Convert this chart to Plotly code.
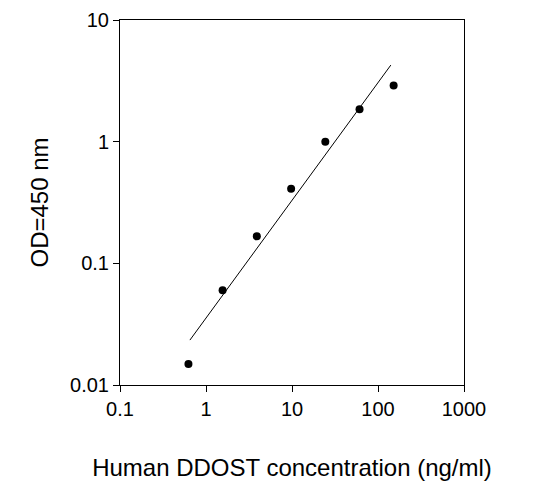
import plotly.graph_objects as go

# Standard curve points
conc = [0.625, 1.56, 3.9, 9.77, 24.4, 61, 152]
od = [0.0149, 0.060, 0.167, 0.41, 1.0, 1.85, 2.9]

# Fitted line endpoints
fit_x = [0.65, 141]
fit_y = [0.0234, 4.26]

fig = go.Figure()
fig.add_trace(go.Scatter(x=fit_x, y=fit_y, mode="lines",
                         line=dict(color="black", width=1)))
fig.add_trace(go.Scatter(x=conc, y=od, mode="markers",
                         marker=dict(color="black", size=8)))

axis_common = dict(
    type="log", showgrid=False, zeroline=False, automargin=False,
    showline=True, linecolor="black", linewidth=1, mirror=True,
    ticks="outside", ticklen=6, tickcolor="black",
    tickfont=dict(size=20, color="black"),
)
fig.update_xaxes(range=[-1, 3], tickvals=[0.1, 1, 10, 100, 1000],
                 ticktext=["0.1", "1", "10", "100", "1000"],
                 title=dict(text="Human DDOST concentration (ng/ml)",
                            font=dict(size=24, color="black"), standoff=40),
                 **axis_common)
fig.update_yaxes(range=[-2, 1], tickvals=[0.01, 0.1, 1, 10],
                 ticktext=["0.01", "0.1", "1", "10"],
                 title=dict(text="OD=450 nm",
                            font=dict(size=24, color="black"), standoff=14),
                 **axis_common)
fig.update_layout(
    width=553, height=495, showlegend=False,
    plot_bgcolor="white", paper_bgcolor="white",
    font=dict(family="Liberation Sans, Arial, sans-serif"),
    margin=dict(l=112, r=97, t=12, b=118),
)
fig.write_html("out.html")
